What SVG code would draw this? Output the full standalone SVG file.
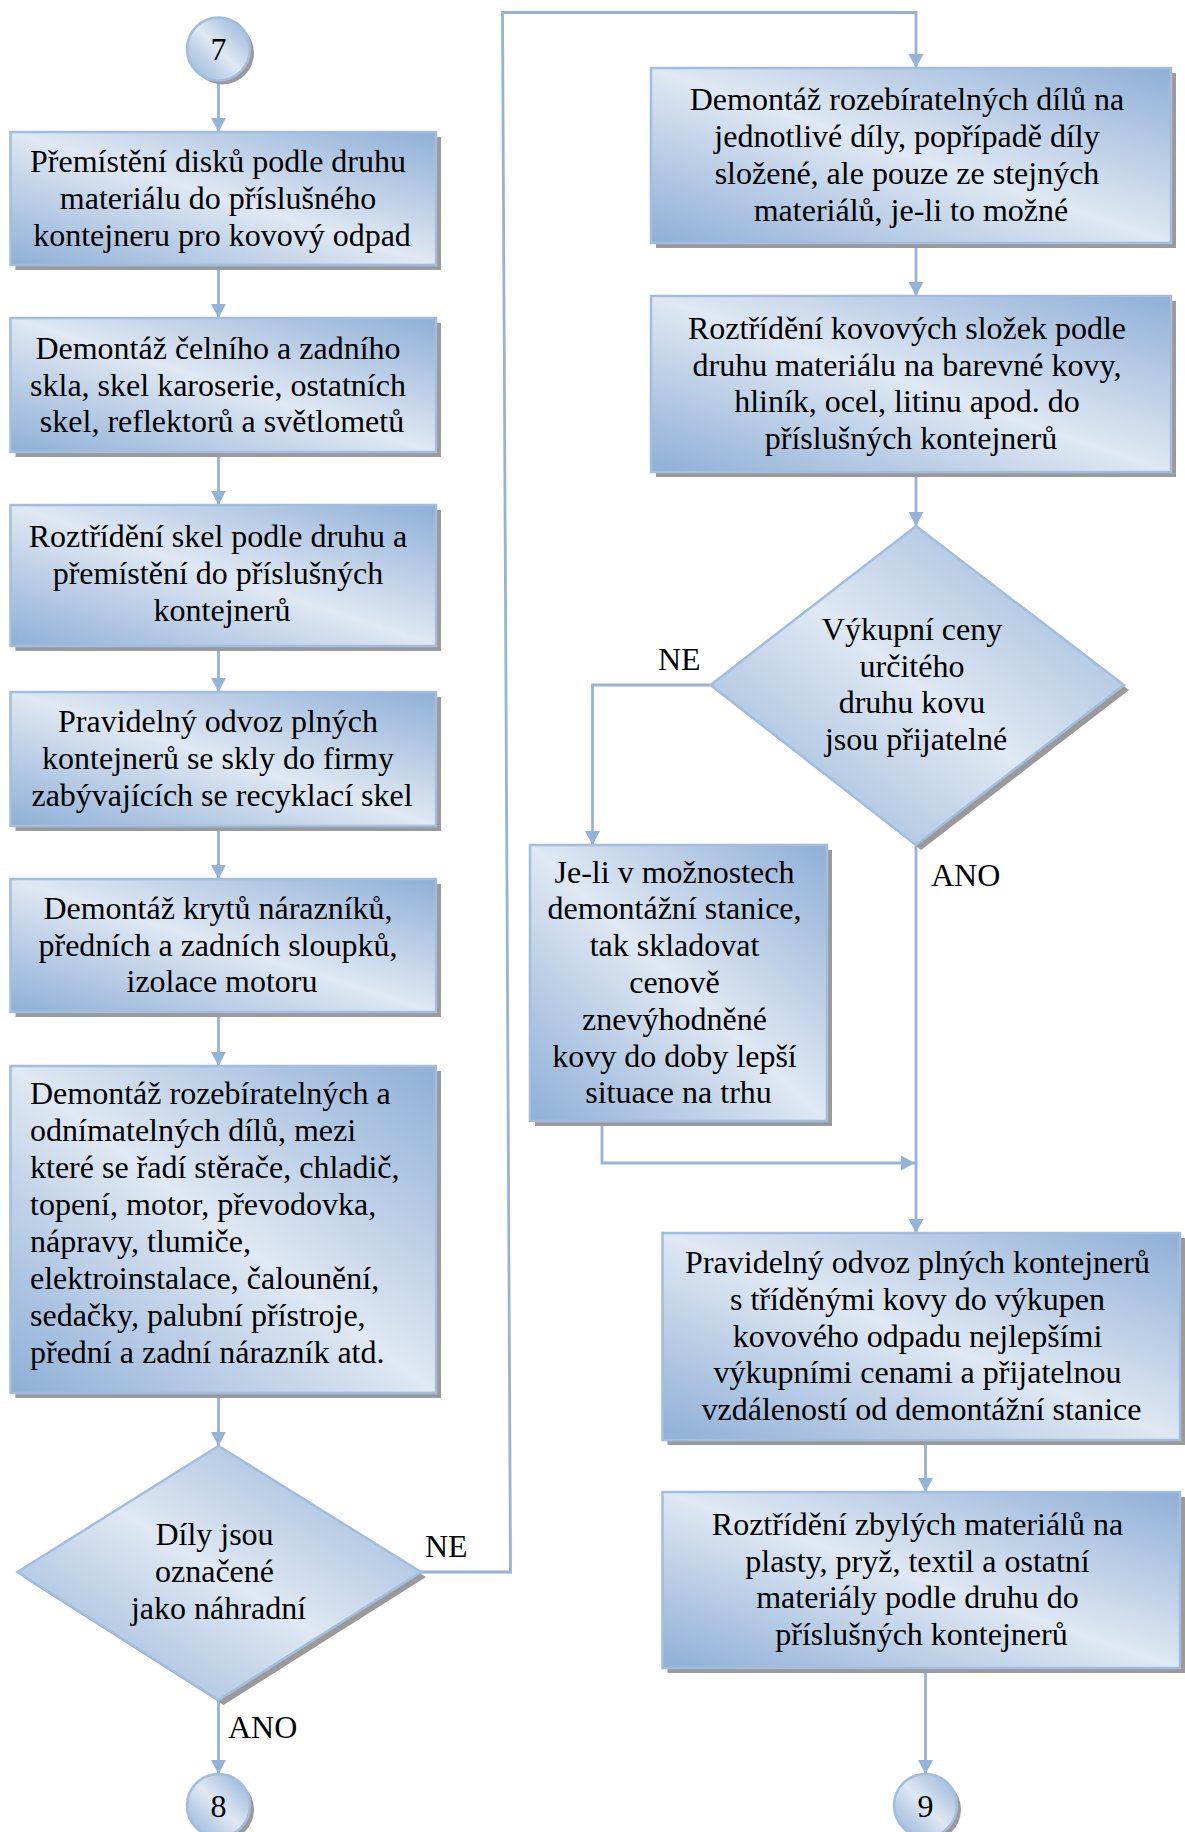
<svg xmlns="http://www.w3.org/2000/svg" width="1185" height="1832" viewBox="0 0 1185 1832">
  <defs>
    <linearGradient id="fillShape" x1="1" y1="0" x2="0" y2="1">
      <stop offset="0" stop-color="#8fafd7"/>
      <stop offset="0.5" stop-color="#dfe8f3"/>
      <stop offset="1" stop-color="#8fafd7"/>
    </linearGradient>
    <marker id="arrow" markerWidth="15" markerHeight="15" refX="14" refY="7.5" orient="auto" markerUnits="userSpaceOnUse">
      <path d="M0,0 L14,7.5 L0,15 z" fill="#95b3d7"/>
    </marker>
  </defs>
  <style>
    .shape { fill: url(#fillShape); stroke: #a2bde0; stroke-width: 2.5; }
    .shadow { fill: #9a9a9a; }
    .label { font-family: "Liberation Serif", "Times New Roman", serif; font-size: 32px; fill: #000; }
    .mid { text-anchor: middle; }
    .conn { fill: none; stroke: #95b3d7; stroke-width: 2.8; }
  </style>

  <rect width="1185" height="1832" fill="#ffffff"/>

  <!-- connectors -->
  <g id="connectors">
    <path class="conn" d="M218.5,80.5 L218.5,132" marker-end="url(#arrow)"/>
    <path class="conn" d="M218.5,265 L218.5,318" marker-end="url(#arrow)"/>
    <path class="conn" d="M218.5,452 L218.5,505" marker-end="url(#arrow)"/>
    <path class="conn" d="M218.5,646 L218.5,692" marker-end="url(#arrow)"/>
    <path class="conn" d="M218.5,826 L218.5,879" marker-end="url(#arrow)"/>
    <path class="conn" d="M218.5,1012 L218.5,1066" marker-end="url(#arrow)"/>
    <path class="conn" d="M218.5,1393 L218.5,1446" marker-end="url(#arrow)"/>
    <path class="conn" d="M218.5,1700 L218.5,1774" marker-end="url(#arrow)"/>
    <!-- NE branch of the left decision -->
    <path class="conn" d="M421,1572 L510.5,1572 L502.5,12.5 L916,12.5 L916,68" marker-end="url(#arrow)"/>
    <path class="conn" d="M916,243 L916,296" marker-end="url(#arrow)"/>
    <path class="conn" d="M916,472 L916,526" marker-end="url(#arrow)"/>
    <!-- NE branch of the right decision -->
    <path class="conn" d="M710.5,685 L592.5,685 L592.5,845" marker-end="url(#arrow)"/>
    <path class="conn" d="M602,1121 L602,1163 L915,1163" marker-end="url(#arrow)"/>
    <path class="conn" d="M916,845 L916,1233" marker-end="url(#arrow)"/>
    <path class="conn" d="M925.5,1440 L925.5,1492" marker-end="url(#arrow)"/>
    <path class="conn" d="M925.5,1668 L925.5,1774" marker-end="url(#arrow)"/>
  </g>

  <!-- connector labels -->
  <g id="connector-labels" class="label">
    <text x="425" y="1557">NE</text>
    <text x="228" y="1738">ANO</text>
    <text x="658" y="670">NE</text>
    <text x="931" y="886">ANO</text>
  </g>

  <!-- connector 7 -->
  <g id="start7">
    <circle class="shadow" cx="222.5" cy="53" r="31.5"/>
    <circle class="shape" cx="218.5" cy="49" r="31.5"/>
    <text class="label mid" x="218.5" y="60">7</text>
  </g>

  <g id="box1">
    <rect class="shadow" x="15.5" y="137" width="425.5" height="133"/>
    <rect class="shape" x="10.5" y="132" width="425.5" height="133"/>
    <text class="label mid">
      <tspan x="222" y="172.2">Přemístění disků podle druhu</tspan>
      <tspan x="222" y="209">materiálu do příslušného</tspan>
      <tspan x="222" y="245.8">kontejneru pro kovový odpad</tspan>
    </text>
  </g>

  <g id="box2">
    <rect class="shadow" x="15.5" y="323" width="425.5" height="134"/>
    <rect class="shape" x="10.5" y="318" width="425.5" height="134"/>
    <text class="label mid">
      <tspan x="222" y="358.7">Demontáž čelního a zadního</tspan>
      <tspan x="222" y="395.5">skla, skel karoserie, ostatních</tspan>
      <tspan x="222" y="432.3">skel, reflektorů a světlometů</tspan>
    </text>
  </g>

  <g id="box3">
    <rect class="shadow" x="15.5" y="510" width="425.5" height="141"/>
    <rect class="shape" x="10.5" y="505" width="425.5" height="141"/>
    <text class="label mid">
      <tspan x="222" y="547">Roztřídění skel podle druhu a</tspan>
      <tspan x="222" y="583.8">přemístění do příslušných</tspan>
      <tspan x="222" y="620.6">kontejnerů</tspan>
    </text>
  </g>

  <g id="box4">
    <rect class="shadow" x="15.5" y="697" width="425.5" height="134"/>
    <rect class="shape" x="10.5" y="692" width="425.5" height="134"/>
    <text class="label mid">
      <tspan x="222" y="732.2">Pravidelný odvoz plných</tspan>
      <tspan x="222" y="769">kontejnerů se skly do firmy</tspan>
      <tspan x="222" y="805.8">zabývajících se recyklací skel</tspan>
    </text>
  </g>

  <g id="box5">
    <rect class="shadow" x="15.5" y="884" width="425.5" height="133"/>
    <rect class="shape" x="10.5" y="879" width="425.5" height="133"/>
    <text class="label mid">
      <tspan x="222" y="918.7">Demontáž krytů nárazníků,</tspan>
      <tspan x="222" y="955.5">předních a zadních sloupků,</tspan>
      <tspan x="222" y="992.3">izolace motoru</tspan>
    </text>
  </g>

  <g id="box6">
    <rect class="shadow" x="15.5" y="1071" width="425.5" height="327"/>
    <rect class="shape" x="10.5" y="1066" width="425.5" height="327"/>
    <text class="label">
      <tspan x="30" y="1104">Demontáž rozebíratelných a</tspan>
      <tspan x="30" y="1141">odnímatelných dílů, mezi</tspan>
      <tspan x="30" y="1178">které se řadí stěrače, chladič,</tspan>
      <tspan x="30" y="1215">topení, motor, převodovka,</tspan>
      <tspan x="30" y="1252">nápravy, tlumiče,</tspan>
      <tspan x="30" y="1289">elektroinstalace, čalounění,</tspan>
      <tspan x="30" y="1326">sedačky, palubní přístroje,</tspan>
      <tspan x="30" y="1363">přední a zadní nárazník atd.</tspan>
    </text>
  </g>

  <g id="decision1">
    <polygon class="shadow" points="223.5,1451 426,1577 223.5,1705 22.5,1577"/>
    <polygon class="shape" points="218.5,1446 421,1572 218.5,1700 17.5,1572"/>
    <text class="label mid">
      <tspan x="218.5" y="1545.2">Díly jsou</tspan>
      <tspan x="218.5" y="1582">označené</tspan>
      <tspan x="218.5" y="1618.8">jako náhradní</tspan>
    </text>
  </g>

  <!-- connector 8 -->
  <g id="end8">
    <circle class="shadow" cx="222.5" cy="1809.5" r="31.5"/>
    <circle class="shape" cx="218.5" cy="1805.5" r="31.5"/>
    <text class="label mid" x="218.5" y="1816.5">8</text>
  </g>

  <g id="boxR1">
    <rect class="shadow" x="656" y="73" width="520" height="175"/>
    <rect class="shape" x="651" y="68" width="520" height="175"/>
    <text class="label mid">
      <tspan x="911" y="110.3">Demontáž rozebíratelných dílů na</tspan>
      <tspan x="911" y="147.1">jednotlivé díly, popřípadě díly</tspan>
      <tspan x="911" y="183.9">složené, ale pouze ze stejných</tspan>
      <tspan x="911" y="220.7">materiálů, je-li to možné</tspan>
    </text>
  </g>

  <g id="boxR2">
    <rect class="shadow" x="656" y="301" width="520" height="176"/>
    <rect class="shape" x="651" y="296" width="520" height="176"/>
    <text class="label mid">
      <tspan x="911" y="338.8">Roztřídění kovových složek podle</tspan>
      <tspan x="911" y="375.6">druhu materiálu na barevné kovy,</tspan>
      <tspan x="911" y="412.4">hliník, ocel, litinu apod. do</tspan>
      <tspan x="911" y="449.2">příslušných kontejnerů</tspan>
    </text>
  </g>

  <g id="decision2">
    <polygon class="shadow" points="921,531 1129,690 921,850 715.5,690"/>
    <polygon class="shape" points="916,526 1124,685 916,845 710.5,685"/>
    <text class="label mid">
      <tspan x="916" y="639.8">Výkupní ceny</tspan>
      <tspan x="916" y="676.6">určitého</tspan>
      <tspan x="916" y="713.4">druhu kovu</tspan>
      <tspan x="916" y="750.2">jsou přijatelné</tspan>
    </text>
  </g>

  <g id="boxR3">
    <rect class="shadow" x="535" y="850" width="297" height="276"/>
    <rect class="shape" x="530" y="845" width="297" height="276"/>
    <text class="label mid">
      <tspan x="678.5" y="882.6">Je-li v možnostech</tspan>
      <tspan x="678.5" y="919.4">demontážní stanice,</tspan>
      <tspan x="678.5" y="956.2">tak skladovat</tspan>
      <tspan x="678.5" y="993">cenově</tspan>
      <tspan x="678.5" y="1029.8">znevýhodněné</tspan>
      <tspan x="678.5" y="1066.6">kovy do doby lepší</tspan>
      <tspan x="678.5" y="1103.4">situace na trhu</tspan>
    </text>
  </g>

  <g id="boxR4">
    <rect class="shadow" x="667.5" y="1238" width="517.5" height="207"/>
    <rect class="shape" x="662.5" y="1233" width="517.5" height="207"/>
    <text class="label mid">
      <tspan x="921.5" y="1272.9">Pravidelný odvoz plných kontejnerů</tspan>
      <tspan x="921.5" y="1309.7">s tříděnými kovy do výkupen</tspan>
      <tspan x="921.5" y="1346.5">kovového odpadu nejlepšími</tspan>
      <tspan x="921.5" y="1383.3">výkupními cenami a přijatelnou</tspan>
      <tspan x="921.5" y="1420.1">vzdáleností od demontážní stanice</tspan>
    </text>
  </g>

  <g id="boxR5">
    <rect class="shadow" x="667.5" y="1497" width="517.5" height="176"/>
    <rect class="shape" x="662.5" y="1492" width="517.5" height="176"/>
    <text class="label mid">
      <tspan x="921.5" y="1534.8">Roztřídění zbylých materiálů na</tspan>
      <tspan x="921.5" y="1571.6">plasty, pryž, textil a ostatní</tspan>
      <tspan x="921.5" y="1608.4">materiály podle druhu do</tspan>
      <tspan x="921.5" y="1645.2">příslušných kontejnerů</tspan>
    </text>
  </g>

  <!-- connector 9 -->
  <g id="end9">
    <circle class="shadow" cx="929.5" cy="1809.5" r="31.5"/>
    <circle class="shape" cx="925.5" cy="1805.5" r="31.5"/>
    <text class="label mid" x="925.5" y="1816.5">9</text>
  </g>
</svg>
